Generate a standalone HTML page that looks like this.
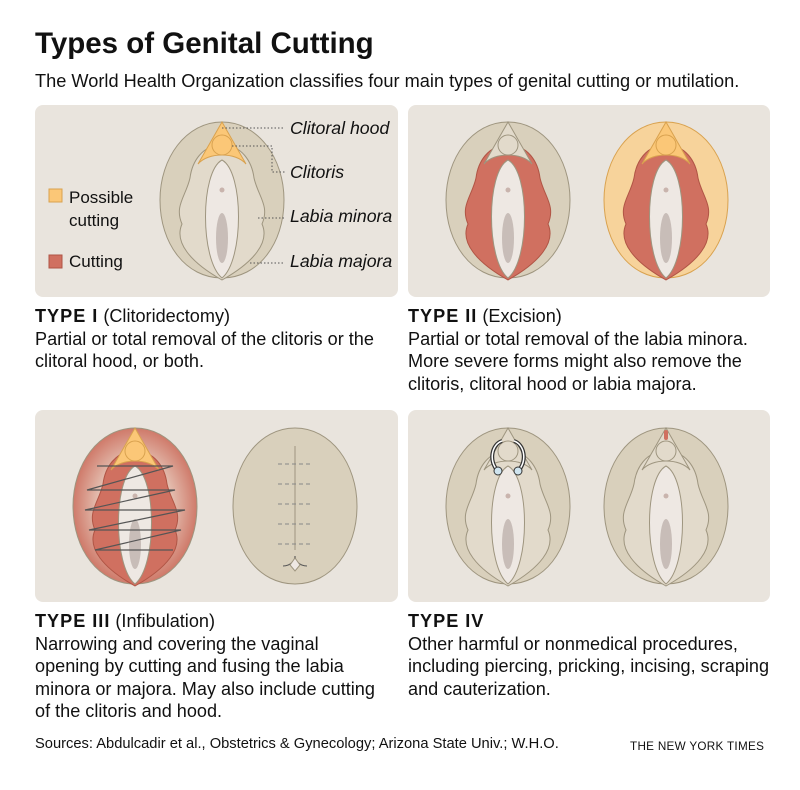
<!DOCTYPE html>
<html><head><meta charset="utf-8"><style>
body{margin:0;background:#fff;width:800px;height:790px;overflow:hidden;font-family:"Liberation Sans",Arial,sans-serif;color:#111}
.t{position:absolute;white-space:nowrap}
.b{font-size:18.1px;line-height:22.5px}
</style></head><body>
<svg width="800" height="790" style="position:absolute;left:0;top:0">
<defs>
<path id="outer" d="M0,-78 C36,-78 62,-42 62,0 C62,44 36,78 0,78 C-36,78 -62,44 -62,0 C-62,-42 -36,-78 0,-78Z"/>
<path id="min" d="M0,-55 C20,-55 30,-38 32,-22 C36,-4 48,6 40,24 C48,42 32,62 0,80 C-32,62 -48,42 -40,24 C-48,6 -36,-4 -32,-22 C-30,-38 -20,-55 0,-55Z"/>
<path id="lens" d="M0,-40 C22,-28 22,60 0,78 C-22,60 -22,-28 0,-40Z"/>
<path id="hood" d="M0,-78 L24,-36 C14,-48 -14,-48 -24,-36Z"/>
<radialGradient id="rg" cx="50%" cy="50%" r="50%"><stop offset="55%" stop-color="#e6c6b8"/><stop offset="100%" stop-color="#cf7a6a"/></radialGradient>
</defs>
<rect x="35" y="105" width="363" height="192" rx="8" fill="#e9e4dd"/>
<rect x="408" y="105" width="362" height="192" rx="8" fill="#e9e4dd"/>
<rect x="35" y="410" width="363" height="192" rx="8" fill="#e9e4dd"/>
<rect x="408" y="410" width="362" height="192" rx="8" fill="#e9e4dd"/>

<g transform="translate(222,200)">
<use href="#outer" fill="#d9d0bc" stroke="#9e957f"/>
<use href="#min" fill="#e2dacb" stroke="#9e957f"/>
<use href="#hood" fill="#fbc777" stroke="#d9a24f"/>
<circle cy="-55" r="10" fill="#fbc777" stroke="#d9a24f"/>
<use href="#lens" fill="#eee8e3" stroke="#9e957f"/>
<circle cy="-10" r="2.5" fill="#c9b4ad"/><ellipse cy="38" rx="6" ry="25" fill="#c8bdb8"/>
</g>
<g stroke="#555" stroke-dasharray="1.5,2" fill="none">
<path d="M222,128 H285"/><path d="M232,146 H272 V172 H285"/><path d="M258,218 H285"/><path d="M250,263 H285"/>
</g>
<rect x="49" y="189" width="13" height="13" fill="#fbc777" stroke="#d9a24f"/>
<rect x="49" y="255" width="13" height="13" fill="#d07060" stroke="#b05545"/>

<g transform="translate(508,200)">
<use href="#outer" fill="#d9d0bc" stroke="#9e957f"/>
<use href="#min" fill="#d07060" stroke="#b05545"/>
<use href="#hood" fill="#e2dacb" stroke="#9e957f"/>
<circle cy="-55" r="10" fill="#e2dacb" stroke="#9e957f"/>
<use href="#lens" fill="#eee8e3" stroke="#9e957f"/>
<circle cy="-10" r="2.5" fill="#c9b4ad"/><ellipse cy="38" rx="6" ry="25" fill="#c8bdb8"/>
</g>
<g transform="translate(666,200)">
<use href="#outer" fill="#f7d39b" stroke="#d9a24f"/>
<use href="#min" fill="#d07060" stroke="#b05545"/>
<use href="#hood" fill="#fbc777" stroke="#d9a24f"/>
<circle cy="-55" r="10" fill="#fbc777" stroke="#d9a24f"/>
<use href="#lens" fill="#eee8e3" stroke="#9e957f"/>
<circle cy="-10" r="2.5" fill="#c9b4ad"/><ellipse cy="38" rx="6" ry="25" fill="#c8bdb8"/>
</g>

<g transform="translate(135,506)">
<use href="#outer" fill="url(#rg)" stroke="#9e957f"/>
<use href="#min" fill="#d07060" stroke="#b05545"/>
<use href="#hood" fill="#fbc777" stroke="#d9a24f"/>
<circle cy="-55" r="10" fill="#fbc777" stroke="#d9a24f"/>
<use href="#lens" fill="#eee8e3" stroke="#9e957f"/>
<circle cy="-10" r="2.5" fill="#c9b4ad"/><ellipse cy="38" rx="6" ry="25" fill="#c8bdb8"/>
<path d="M-38,-40 H38 L-48,-16 H40 L-50,4 H50 L-46,24 H46 L-40,44 H38" fill="none" stroke="#555" stroke-width="1.2"/>
</g>
<g transform="translate(295,506)">
<use href="#outer" fill="#d9d0bc" stroke="#9e957f"/>
<path d="M0,-60 V44" stroke="#9e957f"/>
<g stroke="#888" stroke-dasharray="4,3"><path d="M-17,-42H17M-17,-22H17M-17,-2H17M-17,18H17M-17,38H17"/></g>
<path d="M-12,60 C-4,60 0,54 0,50 C0,54 4,60 12,60" fill="none" stroke="#555"/>
<path d="M0,52 L5,59 L0,65 L-5,59Z" fill="#eee8e3" stroke="#9e957f"/>
</g>

<g transform="translate(508,506)">
<use href="#outer" fill="#d9d0bc" stroke="#9e957f"/>
<use href="#min" fill="#e2dacb" stroke="#9e957f"/>
<use href="#hood" fill="#e2dacb" stroke="#9e957f"/>
<circle cy="-55" r="10" fill="#e2dacb" stroke="#9e957f"/>
<use href="#lens" fill="#eee8e3" stroke="#9e957f"/>
<circle cy="-10" r="2.5" fill="#c9b4ad"/><ellipse cy="38" rx="6" ry="25" fill="#c8bdb8"/>
<path d="M-10,-35 C-20,-45 -16,-62 -6,-65 M10,-35 C20,-45 16,-62 6,-65" fill="none" stroke="#333" stroke-width="4"/>
<path d="M-10,-35 C-20,-45 -16,-62 -6,-65 M10,-35 C20,-45 16,-62 6,-65" fill="none" stroke="#fff" stroke-width="1.5"/>
<circle cx="-10" cy="-35" r="4" fill="#cfe4ef" stroke="#333"/><circle cx="10" cy="-35" r="4" fill="#cfe4ef" stroke="#333"/>
</g>
<g transform="translate(666,506)">
<use href="#outer" fill="#d9d0bc" stroke="#9e957f"/>
<use href="#min" fill="#e2dacb" stroke="#9e957f"/>
<use href="#hood" fill="#e2dacb" stroke="#9e957f"/>
<circle cy="-55" r="10" fill="#e2dacb" stroke="#9e957f"/>
<use href="#lens" fill="#eee8e3" stroke="#9e957f"/>
<circle cy="-10" r="2.5" fill="#c9b4ad"/><ellipse cy="38" rx="6" ry="25" fill="#c8bdb8"/>
<rect x="-2" y="-76" width="4" height="10" rx="2" fill="#d07060"/>
</g>
</svg>

<div class="t" style="left:35px;top:27px;font-size:29.5px;font-weight:bold">Types of Genital Cutting</div>
<div class="t" style="left:35px;top:71px;font-size:18.2px">The World Health Organization classifies four main types of genital cutting or mutilation.</div>

<div class="t" style="left:69px;top:186px;font-size:17px;line-height:23px">Possible<br>cutting</div>
<div class="t" style="left:69px;top:252px;font-size:17px">Cutting</div>
<div class="t" style="left:290px;top:118px;font-size:17.7px;font-style:italic">Clitoral hood</div>
<div class="t" style="left:290px;top:162px;font-size:17.7px;font-style:italic">Clitoris</div>
<div class="t" style="left:290px;top:206px;font-size:17.7px;font-style:italic">Labia minora</div>
<div class="t" style="left:290px;top:251px;font-size:17.7px;font-style:italic">Labia majora</div>

<div class="t b" style="left:35px;top:305px"><b style="letter-spacing:1px">TYPE I</b> (Clitoridectomy)<br>Partial or total removal of the clitoris or the<br>clitoral hood, or both.</div>
<div class="t b" style="left:408px;top:305px"><b style="letter-spacing:1px">TYPE II</b> (Excision)<br>Partial or total removal of the labia minora.<br>More severe forms might also remove the<br>clitoris, clitoral hood or labia majora.</div>
<div class="t b" style="left:35px;top:610px"><b style="letter-spacing:1px">TYPE III</b> (Infibulation)<br>Narrowing and covering the vaginal<br>opening by cutting and fusing the labia<br>minora or majora. May also include cutting<br>of the clitoris and hood.</div>
<div class="t b" style="left:408px;top:610px"><b style="letter-spacing:1px">TYPE IV</b><br>Other harmful or nonmedical procedures,<br>including piercing, pricking, incising, scraping<br>and cauterization.</div>

<div class="t" style="left:35px;top:736px;font-size:14.7px">Sources: Abdulcadir et al., Obstetrics &amp; Gynecology; Arizona State Univ.; W.H.O.</div>
<div class="t" style="left:630px;top:740px;font-size:11.7px;letter-spacing:0.3px">THE NEW YORK TIMES</div>
</body></html>
